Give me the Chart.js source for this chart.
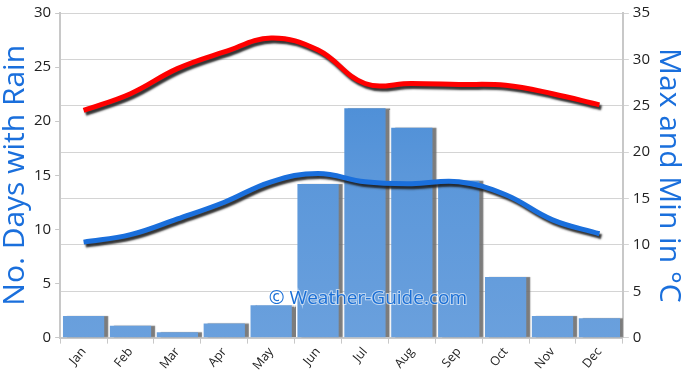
<!DOCTYPE html>
<html>
<head>
<meta charset="utf-8">
<script src="https://cdn.jsdelivr.net/npm/chart.js@4/dist/chart.umd.min.js"></script>
<style>
html,body{margin:0;padding:0;background:#fff;}
#wrap{width:690px;height:371px;position:relative;}
</style>
</head>
<body>
<div id="wrap"><canvas id="c" width="690" height="371"></canvas></div>
<script>
const months = ['Jan','Feb','Mar','Apr','May','Jun','Jul','Aug','Sep','Oct','Nov','Dec'];
const rainDays = [2.0, 1.1, 0.5, 1.3, 3.0, 14.2, 21.2, 19.4, 14.5, 5.6, 2.0, 1.8];
const maxTemp = [24.5, 26.3, 29.0, 30.8, 32.3, 31.0, 27.4, 27.4, 27.3, 27.2, 26.3, 25.1];
const minTemp = [10.3, 11.1, 12.8, 14.6, 16.8, 17.7, 16.8, 16.6, 16.8, 15.4, 12.7, 11.2];
const leftTitle = 'No. Days with Rain';
const rightTitle = 'Max and Min in °C';
const watermark = '© Weather-Guide.com';

const ctx = document.getElementById('c').getContext('2d');

function barFill(context){
  const chart = context.chart;
  const area = chart.chartArea;
  if(!area) return '#5a96d8';
  const g = chart.ctx.createLinearGradient(0, area.top, 0, area.bottom);
  g.addColorStop(0, '#3f86d4');
  g.addColorStop(0.5, '#5b97da');
  g.addColorStop(1, '#6aa0dd');
  return g;
}

const shadowPlugin = {
  id: 'shadows',
  beforeDatasetDraw(chart, args){
    const ds = chart.data.datasets[args.index];
    const c = chart.ctx;
    c.save();
    if(ds.type === 'line'){
      c.shadowColor = 'rgba(30,30,30,0.9)';
      c.shadowOffsetX = 2;
      c.shadowOffsetY = 3;
      c.shadowBlur = 2;
    } else {
      c.shadowColor = 'rgba(110,110,110,0.9)';
      c.shadowOffsetX = 4;
      c.shadowOffsetY = 0;
      c.shadowBlur = 1;
    }
  },
  afterDatasetDraw(chart){
    chart.ctx.restore();
  }
};

const watermarkPlugin = {
  id: 'watermark',
  afterDatasetsDraw(chart){
    const c = chart.ctx;
    const x = chart.scales.x;
    const y = chart.scales.y;
    c.save();
    c.font = '19px "Open Sans", sans-serif';
    c.fillStyle = '#1a6fd6';
    c.textAlign = 'center';
    c.textBaseline = 'middle';
    const cx = x.getPixelForValue(6) + 3;
    const cy = y.getPixelForValue(3.6);
    c.strokeStyle = 'rgba(255,255,255,0.6)';
    c.lineWidth = 2;
    c.strokeText(watermark, cx, cy);
    c.fillText(watermark, cx, cy);
    c.restore();
  }
};

new Chart(ctx, {
  data: {
    labels: months,
    datasets: [
      {
        type: 'line', label: 'Max', data: maxTemp, yAxisID: 'y2',
        borderColor: '#ff0000', borderWidth: 5, pointRadius: 0, tension: 0.4,
        fill: false, order: 1
      },
      {
        type: 'line', label: 'Min', data: minTemp, yAxisID: 'y2',
        borderColor: '#1a6fdc', borderWidth: 5, pointRadius: 0, tension: 0.4,
        fill: false, order: 2
      },
      {
        type: 'bar', label: 'Rain', data: rainDays, yAxisID: 'y',
        backgroundColor: barFill, borderWidth: 0,
        categoryPercentage: 1.0, barPercentage: 0.88, order: 3
      }
    ]
  },
  options: {
    responsive: false,
    animation: false,
    events: [],
    layout: { padding: { top: 0, left: 0, right: 6, bottom: -3 } },
    plugins: { legend: { display: false }, tooltip: { enabled: false } },
    scales: {
      x: {
        offset: true,
        grid: { display: true, drawOnChartArea: false, drawTicks: true, tickLength: 6, color: '#c8c8c8', offset: true },
        border: { display: true, color: '#c8c8c8', width: 2 },
        ticks: { color: '#222', font: { family: '"Open Sans", sans-serif', size: 12.5 }, maxRotation: 50, minRotation: 50, padding: 1 }
      },
      y: {
        position: 'left', min: 0, max: 30,
        ticks: { stepSize: 5, color: '#222', font: { family: '"Open Sans", sans-serif', size: 15 }, padding: 4 },
        grid: { drawOnChartArea: false, drawTicks: true, tickLength: 5, color: '#c8c8c8' },
        border: { display: true, color: '#c8c8c8', width: 2 },
        title: { display: true, text: leftTitle, color: '#1a6fdc', font: { family: '"Open Sans", sans-serif', size: 30, lineHeight: 1.0 }, padding: 0 }
      },
      y2: {
        position: 'right', min: 0, max: 35,
        ticks: { stepSize: 5, color: '#222', font: { family: '"Open Sans", sans-serif', size: 15 }, padding: 4 },
        grid: { drawOnChartArea: true, drawTicks: true, tickLength: 6, color: '#d4d4d4', lineWidth: 1 },
        border: { display: true, color: '#c8c8c8', width: 2 },
        title: { display: true, text: rightTitle, color: '#1a6fdc', font: { family: '"Open Sans", sans-serif', size: 30, lineHeight: 1.0 }, padding: 0 }
      }
    }
  },
  plugins: [shadowPlugin, watermarkPlugin]
});
</script>
</body>
</html>
